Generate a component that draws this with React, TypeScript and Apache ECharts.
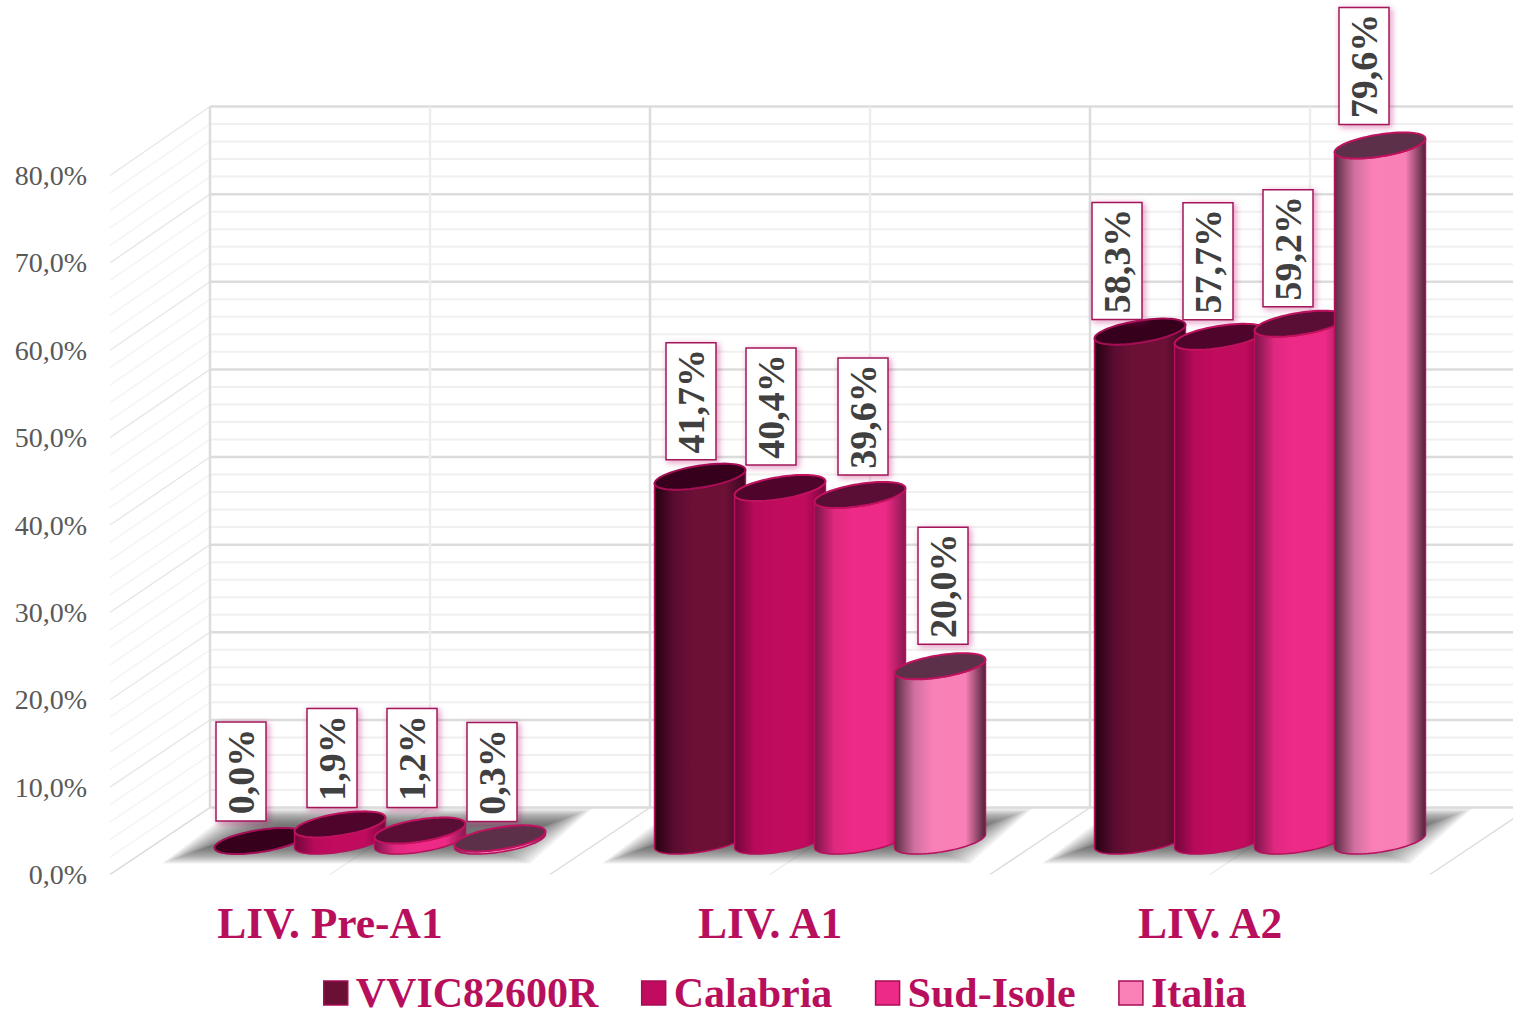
import React, { useEffect, useRef } from "react";
import * as echarts from "echarts";

const categories = ["LIV. Pre-A1", "LIV. A1", "LIV. A2"];
const seriesNames = ["VVIC82600R", "Calabria", "Sud-Isole", "Italia"];
const vvicValues = [0.0, 41.7, 58.3];
const calabriaValues = [1.9, 40.4, 57.7];
const sudIsoleValues = [1.2, 39.6, 59.2];
const italiaValues = [0.3, 20.0, 79.6];
const majorTicks = [0, 10, 20, 30, 40, 50, 60, 70, 80];
const minorTicks = [2, 4, 6, 8, 12, 14, 16, 18, 22, 24, 26, 28, 32, 34, 36, 38, 42, 44, 46, 48, 52, 54, 56, 58, 62, 64, 66, 68, 72, 74, 76, 78];

const allValues = [vvicValues, calabriaValues, sudIsoleValues, italiaValues];

// look
const SERIF = '"Liberation Serif", "Times New Roman", serif';
const ACCENT = "#b80f5d";
const DEPTH_X = 100;
const DEPTH_Y = 67;
const SPACING = 80;
const RX = 46;
const RY = 11;
const TILT = -9;
const legendColors = ["#6a1035", "#c00b5e", "#ee2a87", "#fa80b8"];
const bodyStops = [
  ["#240010", "#5a0c30", "#6d1036", "#6d1036", "#3a0620"],
  ["#70053a", "#b80a5a", "#c00b5e", "#c00b5e", "#78063c"],
  ["#7a1549", "#e0287f", "#ee2a87", "#ee2a87", "#8a1850"],
  ["#5a2a42", "#d070a0", "#fa80b8", "#f880b6", "#4e2238"],
];
const topColors = ["#36001c", "#4f042b", "#5a0e35", "#5c3048"];
// hand placed label boxes of the reference: [x shift from the bar, gap above the bar top]
const labelNudges = [
  [[-19, 20], [-9, 17], [-23, 12]],
  [[-8, 17], [-9, 23], [-12, 17]],
  [[-8, 23], [3, 20], [-12, 17]],
  [[-8, 17], [3, 22], [-16, 21]],
];

const pct = (v: number) => v.toFixed(1).replace(".", ",") + "%";

const rad = (TILT * Math.PI) / 180;
const t0 = Math.atan2(-RY * Math.sin(rad), RX * Math.cos(rad));

function ellipsePoint(cx: number, cy: number, t: number) {
  const c = Math.cos(t), s = Math.sin(t);
  return [cx + RX * c * Math.cos(rad) - RY * s * Math.sin(rad), cy + RX * c * Math.sin(rad) + RY * s * Math.cos(rad)];
}
// screen y grows downwards, so t from t0 to t0 + PI walks the lower edge from right to left
function lowerEdge(cx: number, cy: number) {
  const pts: number[][] = [];
  for (let k = 0; k <= 36; k++) pts.push(ellipsePoint(cx, cy, t0 + (Math.PI * k) / 36));
  return pts;
}
function fullEllipse(cx: number, cy: number) {
  const pts: number[][] = [];
  for (let k = 0; k < 72; k++) pts.push(ellipsePoint(cx, cy, (2 * Math.PI * k) / 72));
  return pts;
}

function barItem(si: number) {
  return (params: any, api: any) => {
    const cat = api.value(0);
    const val = api.value(1);
    const top = api.coord([cat, val]);
    const base = api.coord([cat, 0]);
    const cx = top[0] + DEPTH_X / 2 + (si - 1.5) * SPACING;
    const yT = top[1] - DEPTH_Y / 2;
    const yB = base[1] - DEPTH_Y / 2;
    // outline: lower edge of the foot (right to left), then lower edge of the cap (left to right)
    const outline = [...lowerEdge(cx, yB), ...lowerEdge(cx, yT).reverse()];
    const s = bodyStops[si];
    const text = pct(val);
    const boxH = text.length > 4 ? 117 : 99;
    const [dx, gap] = labelNudges[si][params.dataIndex];
    const bx = cx + dx;
    const bBottom = yT - gap;
    const children: any[] = [];
    if (val > 0) {
      children.push({
        type: "polygon",
        shape: { points: outline },
        style: {
          fill: new echarts.graphic.LinearGradient(0, 0, 1, 0, [
            { offset: 0, color: s[0] },
            { offset: 0.22, color: s[1] },
            { offset: 0.42, color: s[2] },
            { offset: 0.78, color: s[3] },
            { offset: 1, color: s[4] },
          ]),
          stroke: ACCENT,
          lineWidth: 1.5,
        },
      });
    }
    children.push({
      type: "polygon",
      shape: { points: fullEllipse(cx, yT) },
      style: { fill: topColors[si], stroke: si === 0 ? "#a50d55" : "#c0125f", lineWidth: 2 },
    });
    children.push({
      type: "rect",
      shape: { x: bx - 25, y: bBottom - boxH, width: 50, height: boxH },
      style: {
        fill: "#ffffff",
        stroke: "#a3175a",
        lineWidth: 1.5,
        shadowBlur: 6,
        shadowColor: "rgba(190,30,110,0.45)",
        shadowOffsetX: 2,
        shadowOffsetY: 2,
      },
    });
    children.push({
      type: "text",
      x: bx,
      y: bBottom - boxH / 2,
      rotation: Math.PI / 2,
      style: {
        text,
        fill: "#404040",
        fontFamily: SERIF,
        fontWeight: "bold",
        fontSize: 38,
        align: "center",
        verticalAlign: "middle",
      },
    });
    return { type: "group", children };
  };
}

// the back wall is drawn a hair taller than the front scale, as in the reference
const backY = (y: number, v: number) => y - DEPTH_Y - (v / 80) * 2;

function wallItem(major: boolean) {
  return (params: any, api: any) => {
    const cs = params.coordSys;
    const v = api.value(0);
    const y = api.coord([0, v])[1];
    const by = backY(y, v);
    return {
      type: "group",
      silent: true,
      children: [
        {
          type: "line",
          shape: { x1: cs.x, y1: y, x2: cs.x + DEPTH_X, y2: by },
          style: { stroke: major ? "#e8e8e8" : "#f4f4f4", lineWidth: 1.5 },
        },
        {
          type: "line",
          shape: { x1: cs.x + DEPTH_X, y1: by, x2: cs.x + cs.width + DEPTH_X, y2: by },
          style: { stroke: major ? "#dcdcdc" : "#f0f0f0", lineWidth: major ? 2.5 : 2 },
        },
      ],
    };
  };
}

function verticalItem(params: any, api: any) {
  const cs = params.coordSys;
  const i = api.value(0);
  const band = api.size([1, 0])[0] / 2;
  const x = cs.x + i * band;
  const major = i % 2 === 0;
  const color = major ? "#dcdcdc" : "#ededed";
  const foot = cs.y + cs.height;
  return {
    type: "group",
    silent: true,
    children: [
      {
        type: "line",
        shape: { x1: x, y1: foot, x2: x + DEPTH_X, y2: foot - DEPTH_Y },
        style: { stroke: color, lineWidth: 1.5 },
      },
      {
        type: "line",
        shape: { x1: x + DEPTH_X, y1: foot - DEPTH_Y, x2: x + DEPTH_X, y2: cs.y - DEPTH_Y - 2 },
        style: { stroke: color, lineWidth: 2.5 },
      },
    ],
  };
}

function shadowItem(params: any, api: any) {
  const c = api.coord([api.value(0), 0]);
  const b = c[1];
  const layers: any[] = [];
  for (let i = 0; i < 16; i++) {
    const dx = i * 3;
    const dy = i * 1.1;
    layers.push({
      type: "polygon",
      silent: true,
      shape: {
        points: [
          [c[0] - 168 + dx, b - 11 - dy],
          [c[0] - 95 + dx, b - 66 + dy],
          [c[0] + 262 - dx, b - 66 + dy],
          [c[0] + 200 - dx, b - 11 - dy],
        ],
      },
      style: { fill: "#484848", opacity: 0.075 },
    });
  }
  return { type: "group", silent: true, children: layers };
}

export default function App() {
  const ref = useRef<HTMLDivElement>(null);
  useEffect(() => {
    const chart = echarts.init(ref.current!, null, { renderer: "svg" });
    const option: any = {
      animation: false,
      backgroundColor: "#ffffff",
      grid: { left: 110, top: 175.5, width: 1320, height: 699 },
      legend: {
        left: 318,
        top: 967,
        itemWidth: 24,
        itemHeight: 24,
        itemGap: 42.5,
        icon: "rect",
        textStyle: { color: ACCENT, fontFamily: SERIF, fontWeight: "bold", fontSize: 42, lineHeight: 36, padding: [0, 0, 0, 3] },
        data: seriesNames.map((name, i) => ({
          name,
          itemStyle: { color: legendColors[i], borderColor: "#a50d55", borderWidth: 1.5 },
        })),
      },
      xAxis: {
        type: "category",
        data: categories,
        axisLine: { show: false },
        axisTick: { show: false },
        axisLabel: { color: ACCENT, fontFamily: SERIF, fontWeight: "bold", fontSize: 43.5, margin: 26 },
      },
      yAxis: {
        type: "value",
        min: 0,
        max: 80,
        interval: 10,
        splitLine: { show: false },
        axisLine: { show: false },
        axisTick: { show: false },
        axisLabel: {
          color: "#595959",
          fontFamily: SERIF,
          fontSize: 28,
          margin: 23,
          formatter: (v: number) => pct(v),
        },
      },
      series: [
        { type: "custom", silent: true, z: 1, data: minorTicks.map((v) => [v]), encode: { y: 0 }, renderItem: wallItem(false) },
        { type: "custom", silent: true, z: 1, data: majorTicks.map((v) => [v]), encode: { y: 0 }, renderItem: wallItem(true) },
        { type: "custom", silent: true, z: 1, data: [0, 1, 2, 3, 4, 5, 6].map((v) => [v]), encode: { x: 0 }, renderItem: verticalItem },
        { type: "custom", silent: true, z: 2, data: categories.map((_, i) => [i]), encode: { x: 0 }, renderItem: shadowItem },
        ...seriesNames.map((name, si) => ({
          type: "custom",
          name,
          z: 3 + si,
          itemStyle: { color: legendColors[si] },
          data: allValues[si].map((v, i) => [i, v]),
          encode: { x: 0, y: 1 },
          renderItem: barItem(si),
        })),
      ],
    };
    chart.setOption(option);
    return () => chart.dispose();
  }, []);
  return <div ref={ref} style={{ position: "absolute", left: 0, top: 0, width: 1513, height: 1015 }} />;
}
